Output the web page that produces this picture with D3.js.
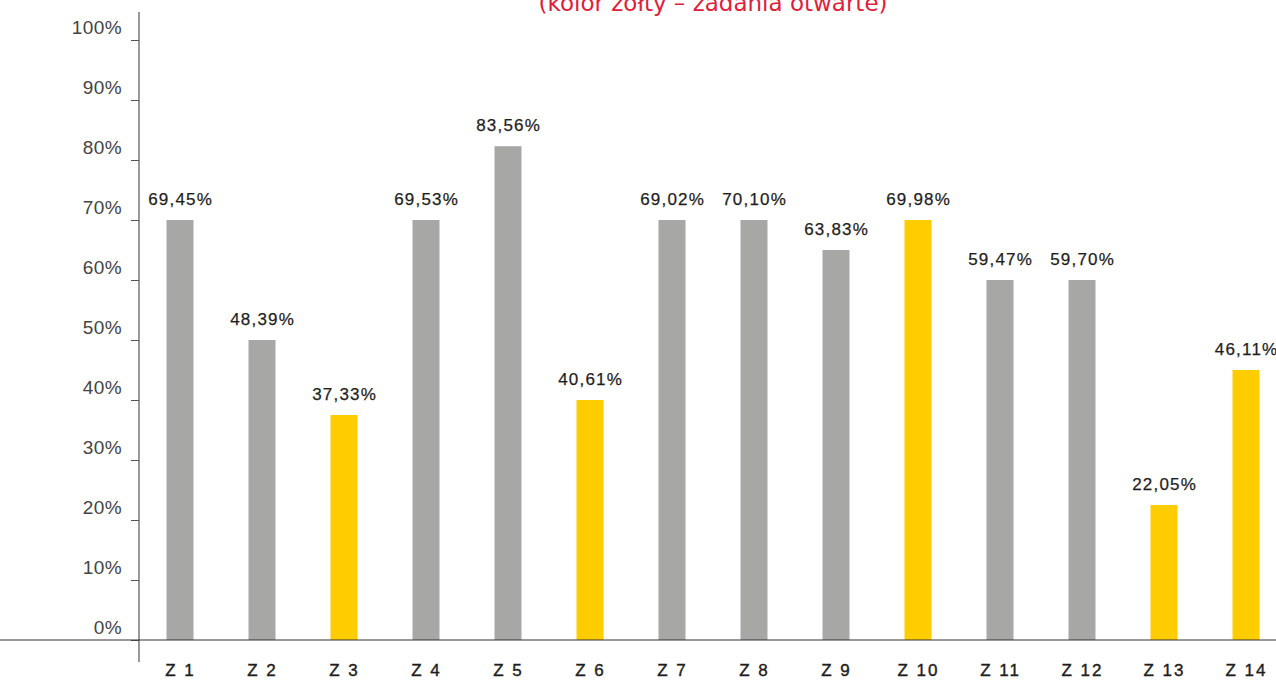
<!DOCTYPE html>
<html><head><meta charset="utf-8">
<script src="https://cdn.jsdelivr.net/npm/d3@7"></script>
<style>
html,body{margin:0;padding:0;background:#fff;}
svg{display:block;}
</style></head>
<body>
<svg id="chart" width="1276" height="680"></svg>
<script>
const categories = ["Z 1","Z 2","Z 3","Z 4","Z 5","Z 6","Z 7","Z 8","Z 9","Z 10","Z 11","Z 12","Z 13","Z 14"];
const labelValues = ["69,45%","48,39%","37,33%","69,53%","83,56%","40,61%","69,02%","70,10%","63,83%","69,98%","59,47%","59,70%","22,05%","46,11%"];
// bar heights as drawn in the picture (percent)
const barValues = [70, 50, 37.5, 70, 82.3, 40, 70, 70, 65, 70, 60, 60, 22.5, 45];
const openTask = [false,false,true,false,false,true,false,false,false,true,false,false,true,true];
const yTicks = [0,10,20,30,40,50,60,70,80,90,100];
const title = "(kolor żółty – zadania otwarte)";

const svg = d3.select("#chart");
const W = 1276;
const y = d3.scaleLinear().domain([0,100]).range([640,40]);
const x = d3.scalePoint().domain(categories).range([180,1246]);
const bw = 27;
const font = "'Liberation Sans', Arial, Helvetica, sans-serif";

// title
svg.append("text").attr("x",713).attr("y",11).attr("text-anchor","middle")
  .attr("font-family","'DejaVu Sans', sans-serif").attr("font-size",23)
  .attr("fill","#e0203a").text(title);

// bars
svg.selectAll("rect.bar").data(categories).enter().append("rect")
  .attr("class","bar")
  .attr("x",d=>x(d)-bw/2)
  .attr("width",bw)
  .attr("y",(d,i)=>y(barValues[i]))
  .attr("height",(d,i)=>y(0)-y(barValues[i]))
  .attr("fill",(d,i)=>openTask[i] ? "#ffcc00" : "#a7a7a5");

// value labels
svg.selectAll("text.val").data(categories).enter().append("text")
  .attr("class","val")
  .attr("x",d=>x(d)+0.6)
  .attr("y",(d,i)=>y(barValues[i])-15)
  .attr("text-anchor","middle")
  .attr("font-family",font).attr("font-size",17)
  .attr("letter-spacing",1.2)
  .attr("fill","#1e1e1e").attr("stroke","#1e1e1e").attr("stroke-width",0.25)
  .text((d,i)=>labelValues[i]);

// y axis
const yAxis = d3.axisLeft(y).tickValues(yTicks).tickSize(8).tickFormat(d=>d+"%");
const gy = svg.append("g").attr("transform","translate(139,0)").call(yAxis);
gy.select(".domain").remove();
gy.selectAll(".tick line").attr("stroke","#555");
gy.selectAll(".tick text").attr("font-family",font).attr("font-size",19)
  .attr("letter-spacing",0.4)
  .attr("fill","#444").attr("x",-17).attr("dy","-0.35em");
svg.append("line").attr("x1",139).attr("x2",139).attr("y1",12).attr("y2",662)
  .attr("stroke","#555").attr("stroke-width",1.2);

// baseline
svg.append("line").attr("x1",0).attr("x2",W).attr("y1",y(0)).attr("y2",y(0))
  .attr("stroke","#333").attr("stroke-width",1.2);

// x labels
const xAxis = d3.axisBottom(x).tickSize(0).tickPadding(0);
const gx = svg.append("g").attr("transform","translate(0,670)").call(xAxis);
gx.select(".domain").remove();
gx.selectAll(".tick text").attr("font-family",font).attr("font-size",17)
  .attr("letter-spacing",2).attr("fill","#1e1e1e")
  .attr("stroke","#1e1e1e").attr("stroke-width",0.4)
  .attr("dy","0.35em");
</script>
</body></html>
